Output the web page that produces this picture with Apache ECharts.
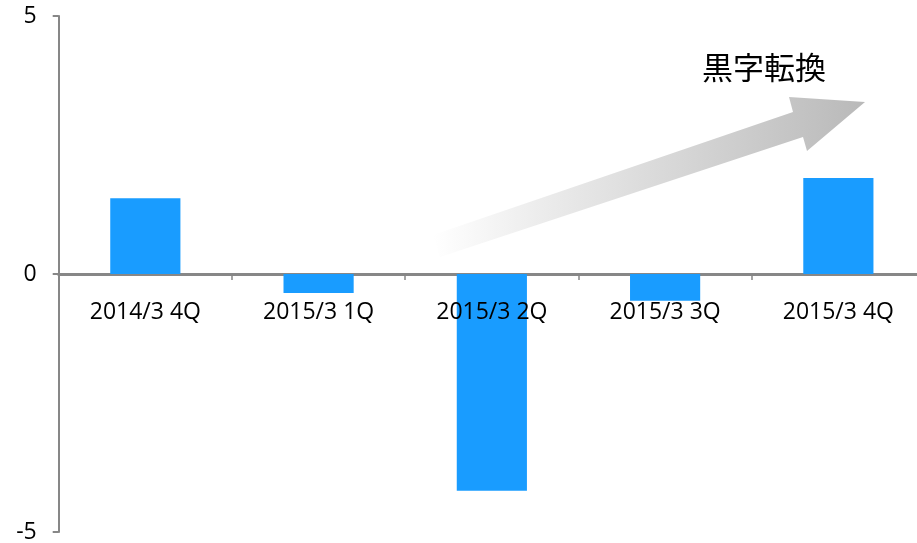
<!DOCTYPE html>
<html><head><meta charset="utf-8">
<script src="https://cdn.jsdelivr.net/npm/echarts@6/dist/echarts.min.js"></script>
<style>html,body{margin:0;padding:0;background:#fff}#c{width:917px;height:543px}</style>
</head><body><div id="c"></div>
<script>
var categories = ['2014/3 4Q', '2015/3 1Q', '2015/3 2Q', '2015/3 3Q', '2015/3 4Q'];
var values = [1.47, -0.37, -4.2, -0.52, 1.86];
var annotationText = '黒字転換';

var gridTop = 16, gridBottom = 11, H = 543;
var halfHeight = (H - gridTop - gridBottom) / 2;

var chart = echarts.init(document.getElementById('c'));
chart.setOption({
  animation: false,
  grid: { left: 58.7, right: -8, top: gridTop, bottom: gridBottom, containLabel: false, outerBoundsMode: 'none' },
  xAxis: [{
    type: 'category', data: categories,
    axisLine: { onZero: true, lineStyle: { color: '#878787', width: 3 } },
    axisTick: { show: true, length: 6, lineStyle: { color: '#878787', width: 1.5 } },
    axisLabel: { show: false },
    splitLine: { show: false }
  }, {
    type: 'category', data: categories, position: 'bottom', offset: -halfHeight, z: 20,
    axisLine: { show: false, onZero: false },
    axisTick: { show: false },
    axisLabel: { color: '#000', fontSize: 23, fontFamily: 'Open Sans', margin: 27 },
    splitLine: { show: false }
  }],
  yAxis: {
    type: 'value', min: -5, max: 5, interval: 5,
    axisLine: { show: true, lineStyle: { color: '#878787', width: 2 } },
    axisTick: { show: true, length: 6, lineStyle: { color: '#878787', width: 2 } },
    axisLabel: { color: '#000', fontSize: 23, fontFamily: 'Open Sans', margin: 22 },
    splitLine: { show: false }
  },
  series: [{
    type: 'bar', data: values, barWidth: '40.5%', xAxisIndex: 0,
    itemStyle: { color: '#199cff' }
  }],
  graphic: [
    {
      type: 'polygon', z: 1,
      shape: { points: [[433,235],[793,112],[789,97],[865,102],[807,151],[803,137],[440,257]] },
      style: {
        fill: new echarts.graphic.LinearGradient(0, 0, 1, 0, [
          { offset: 0, color: 'rgba(255,255,255,1)' },
          { offset: 0.25, color: '#ececec' },
          { offset: 1, color: '#b9b9b9' }
        ])
      }
    },
    {
      type: 'text', left: 702, top: 52, z: 2,
      style: { text: annotationText, fontSize: 31, fontFamily: 'Noto Sans CJK JP', fill: '#000' }
    }
  ]
});
</script>
</body></html>
